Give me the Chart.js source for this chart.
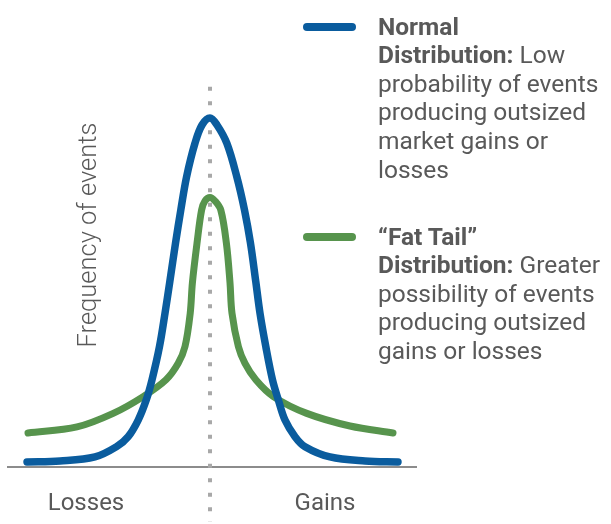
<!DOCTYPE html>
<html lang="en">
<head>
<meta charset="UTF-8">
<title>Normal vs Fat Tail</title>
<script src="https://cdn.jsdelivr.net/npm/chart.js"></script>
<style>
  body { margin: 0; background: #fff; }
  .wrap { position: relative; width: 611px; height: 524px; font-family: Roboto, "Open Sans", sans-serif; color: #595959; }
  #chart { position: absolute; left: 0; top: 0; }
  .legenda { position: absolute; left: 303px; font-size: 24.5px; line-height: 28.6px; white-space: nowrap; }
  .legenda .swatch { position: absolute; left: 0; width: 53px; height: 8px; border-radius: 4px; }
  .legenda .texto { position: absolute; left: 75px; top: 0; }
  .legenda b { font-weight: 700; }
</style>
</head>
<body>
<div class="wrap">
  <canvas id="chart" width="611" height="524"></canvas>
  <div class="legenda" style="top: 12.7px;">
    <div class="swatch" style="top: 10.3px; background: #0a5c9e;"></div>
    <div class="texto"><b>Normal</b><br><b>Distribution:</b> Low<br>probability of events<br>producing outsized<br>market gains or<br>losses</div>
  </div>
  <div class="legenda" style="top: 222.7px;">
    <div class="swatch" style="top: 10.3px; background: #57944d;"></div>
    <div class="texto"><b>“Fat Tail”</b><br><b>Distribution:</b> Greater<br>possibility of events<br>producing outsized<br>gains or losses</div>
  </div>
</div>
<script>
// curves (x = outcome, 0 = centre; y = relative frequency)
const normalX = [-9.15, -7.5, -5.75, -4.67, -4.09, -3.59, -3.19, -2.9, -2.525, -2.25, -2.01, -1.725, -1.46, -1.17, -0.75, -0.4, 0, 0.35, 0.84, 1.34, 1.725, 2.025, 2.29, 2.5, 2.79, 3.125, 3.42, 3.75, 4.25, 4.75, 6, 7.75, 9.4];
const normalY = [1.43, 1.71, 2.86, 5.8, 8.66, 13.4, 19.1, 24.9, 34.4, 43.9, 52.9, 63.9, 73.4, 82.9, 92.5, 97.7, 99.7, 97.7, 92.5, 82.9, 73.4, 63.9, 52.9, 43.9, 34.4, 24.9, 19.1, 13.4, 8.66, 5.8, 2.86, 1.71, 1.43];

const fatX = [-9.1, -6.65, -4.84, -3.34, -2.2, -1.59, -1.25, -0.99, -0.88, -0.65, -0.42, -0.25, 0, 0.25, 0.54, 0.82, 1, 1.1, 1.42, 1.75, 2.29, 3.17, 4.84, 7, 9.15];
const fatY = [9.71, 11.43, 15.3, 20.1, 24.9, 29.6, 34.4, 43.9, 52.6, 63.9, 73.4, 76, 77, 76, 73.4, 63.9, 52.6, 43.9, 34.4, 29.6, 24.9, 20.1, 15.3, 11.7, 9.71];

const divisorX = [0, 0];
const divisorY = [108.6, -15.7];

const ticksX = [-6.2, 5.75];
const ticksLabel = ["Losses", "Gains"];

const tituloY = "Frequency of events";

function pontos(xs, ys) {
    return xs.map((x, i) => ({ x: x, y: ys[i] }));
}

const tituloPlugin = {
    id: "tituloY",
    afterDatasetsDraw(chart) {
        const ctx = chart.ctx;
        ctx.save();
        ctx.translate(90, 235);
        ctx.rotate(-Math.PI / 2);
        ctx.font = "300 25.5px Roboto";
        ctx.fillStyle = "#595959";
        ctx.textAlign = "center";
        ctx.textBaseline = "middle";
        ctx.fillText(tituloY, 0, 0);
        ctx.restore();
    }
};

const config = {
    type: "line",
    data: {
        datasets: [
            {
                label: "Normal Distribution",
                data: pontos(normalX, normalY),
                borderColor: "#0a5c9e",
                borderWidth: 7.5,
                borderCapStyle: "round",
                borderJoinStyle: "round",
                pointRadius: 0,
                tension: 0.35,
            },
            {
                label: "Fat Tail Distribution",
                data: pontos(fatX, fatY),
                borderColor: "#57944d",
                borderWidth: 7,
                borderCapStyle: "round",
                borderJoinStyle: "round",
                pointRadius: 0,
                tension: 0.35,
            },
            {
                label: "centro",
                data: pontos(divisorX, divisorY),
                borderColor: "#a8a8a8",
                borderWidth: 4,
                borderDash: [4, 10.5],
                borderCapStyle: "butt",
                pointRadius: 0,
            },
        ],
    },
    options: {
        responsive: false,
        animation: false,
        layout: { padding: { left: 8, right: 195, top: 0, bottom: 0 } },
        plugins: {
            legend: { display: false },
            tooltip: { enabled: false },
        },
        scales: {
            x: {
                type: "linear",
                min: -10.1,
                max: 10.3,
                position: { y: 0 },
                grid: { display: false, drawTicks: false, tickLength: 0 },
                border: { display: true, color: "#8c8c8c", width: 2 },
                afterBuildTicks: (axis) => {
                    axis.ticks = ticksX.map(v => ({ value: v }));
                },
                ticks: {
                    autoSkip: false,
                    maxRotation: 0,
                    padding: 23,
                    color: "#595959",
                    font: { family: "Roboto", size: 24 },
                    callback: (value) => ticksLabel[ticksX.indexOf(value)],
                },
            },
            y: {
                display: false,
                min: -16.3,
                max: 133.4,
            },
        },
    },
    plugins: [tituloPlugin],
};

new Chart(document.getElementById("chart"), config);
</script>
</body>
</html>
